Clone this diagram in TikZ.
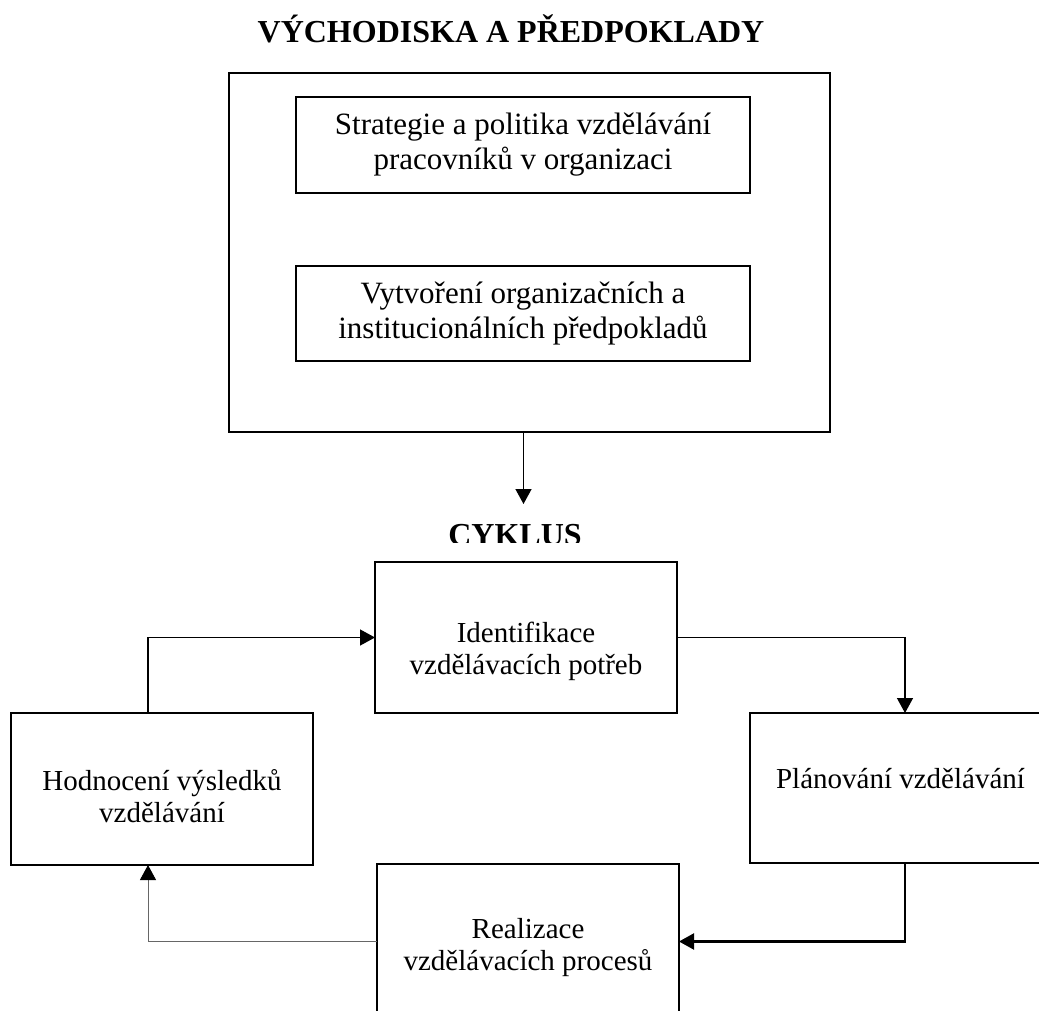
\documentclass[tikz,border=0pt]{standalone}
\usepackage{fontspec}
\setmainfont{Liberation Serif}
\usetikzlibrary{arrows.meta}
\tikzset{
  frame/.style={draw, line width=1.4pt, inner sep=0pt, outer sep=0pt},
  txtU/.style={font=\fontsize{31}{35}\selectfont, align=center, inner sep=0pt},
  txtL/.style={font=\fontsize{29}{32}\selectfont, align=center, inner sep=0pt},
  ttl/.style={font=\fontsize{32}{36}\selectfont\bfseries, inner sep=0pt},
  arr/.style={-{Triangle[length=15pt,width=16pt,color=black]}, line width=1.4pt},
}
\begin{document}
\begin{tikzpicture}[x=1pt,y=-1pt]
\useasboundingbox (0,0) rectangle (1039,1011);
\clip (0,0) rectangle (1039,1011);

% title
\node[ttl, anchor=base] (title) at (511,43) {VÝCHODISKA A PŘEDPOKLADY};

% upper frame and its boxes
\node[frame, minimum width=601pt, minimum height=359pt] (outer) at (529.5,252.5) {};
\node[frame, minimum width=454pt, minimum height=96pt] (strat) at (523,145) {};
\node[txtU] (strattxt) at (523,145) {Strategie a politika vzdělávání\\pracovníků v organizaci};
\node[frame, minimum width=454pt, minimum height=95pt] (vytv) at (523,313.5) {};
\node[txtU] (vytvtxt) at (523,313.5) {Vytvoření organizačních a\\institucionálních předpokladů};

% arrow down
\coordinate (c1) at (523.5,504);
\draw[arr] (outer.south -| c1) -- (c1);

% CYKLUS (cut at the bottom)
\begin{scope}
\clip (0,0) rectangle (1039,542);
\node[ttl, anchor=base] (cyk) at (515,545) {CYKLUS};
\end{scope}

% cycle boxes
\node[frame, minimum width=302pt, minimum height=151pt] (ident) at (526,637.5) {};
\node[txtL] (identtxt) at (526,651) {Identifikace\\vzdělávacích potřeb};

\node[frame, minimum width=302pt, minimum height=152pt] (hodn) at (162,789) {};
\node[txtL] (hodntxt) at (162,796) {Hodnocení výsledků\\vzdělávání};

\node[frame, minimum width=302pt, minimum height=150pt] (plan) at (901,788) {};
\node[txtL, anchor=base] (plantxt) at (900.5,788) {Plánování vzdělávání};

\node[frame, minimum width=302pt, minimum height=155pt] (real) at (528,941.5) {};
\node[txtL] (realtxt) at (528,947.5) {Realizace\\vzdělávacích procesů};

% connectors
\draw[arr] ([xshift=-14pt]hodn.north) |- (ident.west);
\draw[arr] (ident.east) -| ([xshift=4pt]plan.north);
\draw[arr, line width=2.2pt] ([xshift=4pt]plan.south) |- (real.east);
\draw[arr, draw=black!60, line width=0.9pt] (real.west) -| ([xshift=-14pt]hodn.south);
\end{tikzpicture}
\end{document}
